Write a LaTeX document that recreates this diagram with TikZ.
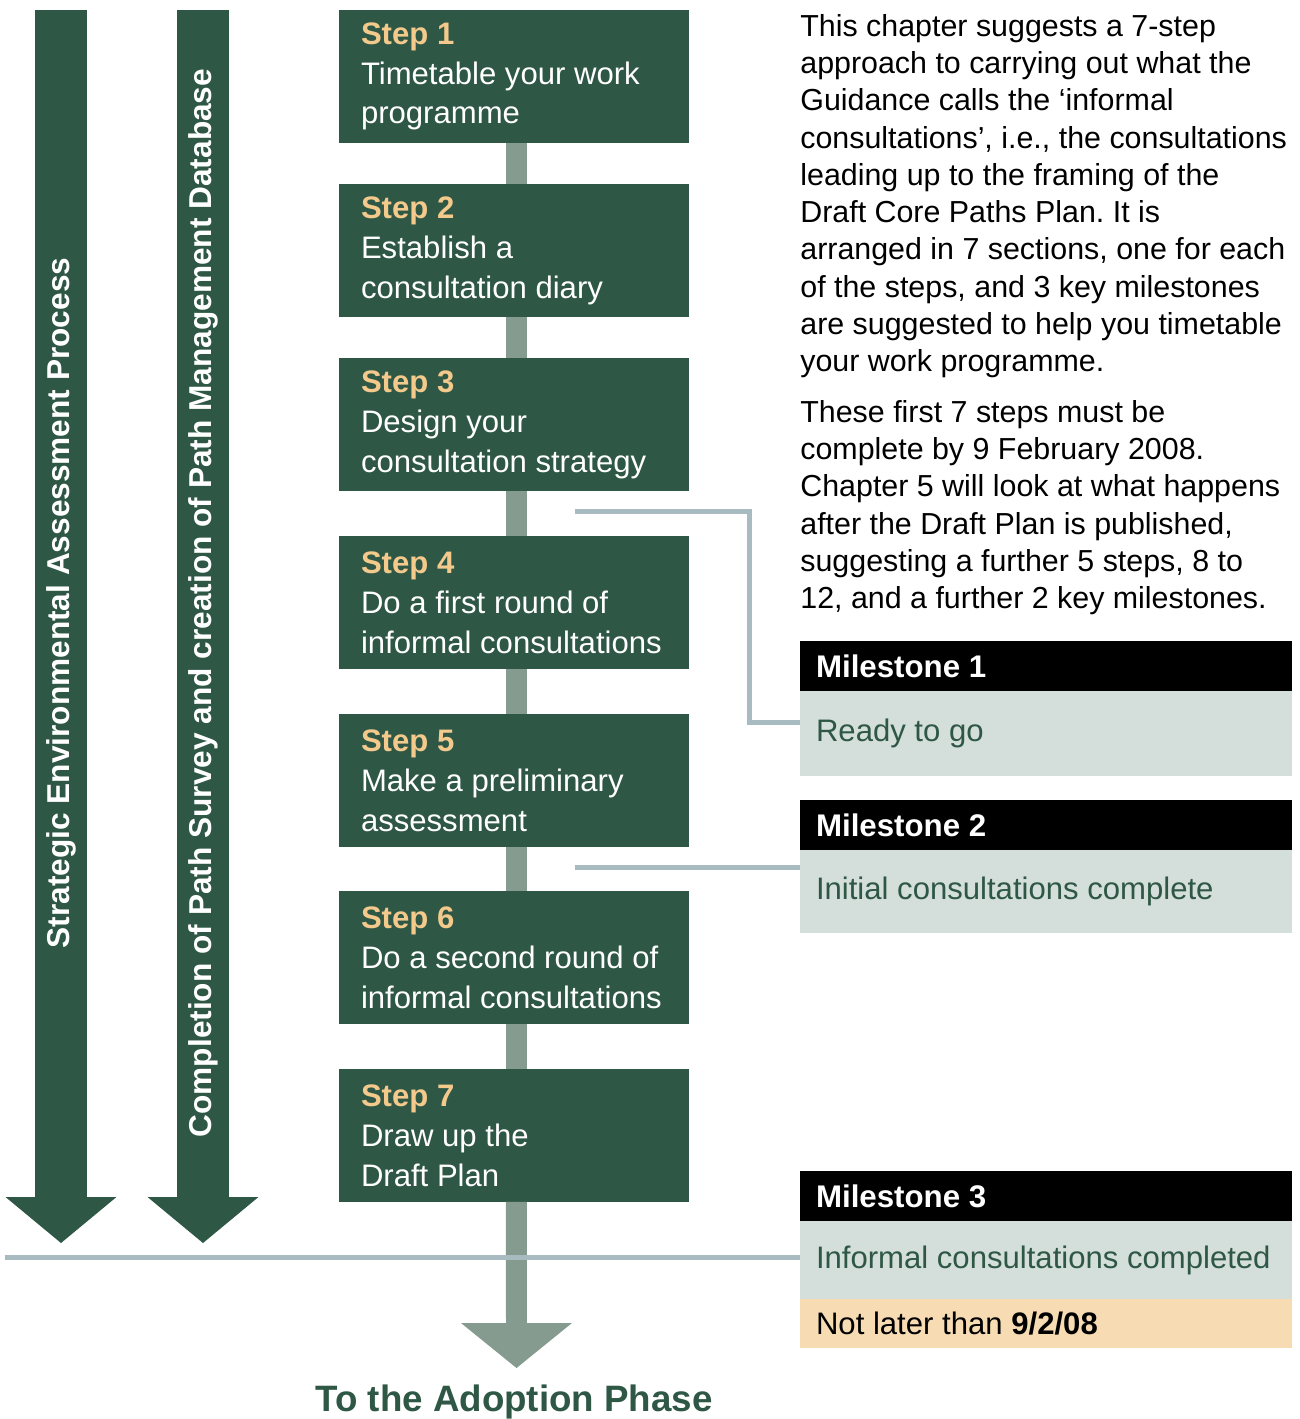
\documentclass[tikz,border=0pt]{standalone}
\usepackage{fontspec}
\setmainfont{Liberation Sans}
\usetikzlibrary{positioning,arrows.meta}
\definecolor{pinegreen}{HTML}{2E5745}
\definecolor{sagegrey}{HTML}{869B8F}
\definecolor{linkgrey}{HTML}{A8BBC1}
\definecolor{mistgrey}{HTML}{D4DEDB}
\definecolor{wheat}{HTML}{F7DBB3}
\definecolor{stepgold}{HTML}{F3C98C}
\tikzset{
  stepbox/.style={fill=pinegreen, text=white, anchor=north west, align=flush left,
    text width=6.12cm, minimum height=2.66cm, inner xsep=0.44cm, inner ysep=0pt,
    outer sep=0pt, font=\fontsize{17.7}{22.7}\selectfont},
  mshead/.style={fill=black, text=white, align=flush left, text width=9.2cm,
    minimum height=1cm, inner xsep=0.32cm, inner ysep=0pt, outer sep=0pt,
    font=\fontsize{17.8}{22}\selectfont\bfseries},
  msbody/.style={fill=mistgrey, text=pinegreen, align=flush left, text width=9.2cm,
    inner xsep=0.32cm, inner ysep=0pt, outer sep=0pt,
    font=\fontsize{17.7}{22}\selectfont},
  blurb/.style={anchor=north west, inner sep=0pt, align=left,
    font=\fontsize{17.3}{21.2}\selectfont},
  trunk/.style={pinegreen, line width=1.03cm,
    -{Triangle[width=2.22cm 0 0, length=0.92cm 0 0, line width=0pt 0 0]}},
  trunklabel/.style={rotate=90, text=white, font=\fontsize{18}{22}\selectfont\bfseries},
  spine/.style={sagegrey, line width=0.42cm},
  link/.style={linkgrey, line width=0.1cm},
}
\frenchspacing
\hyphenpenalty=10000
\begin{document}
\begin{tikzpicture}[x=0.02cm, y=-0.02cm]
  \useasboundingbox (0,0) rectangle (1299,1419);

  \coordinate (seaTop) at (61,10);
  \coordinate (seaTip) at (61,1243);
  \coordinate (surveyTop) at (203,10);
  \coordinate (surveyTip) at (203,1243);
  \draw[trunk] (seaTop) -- node[pos=0.481, trunklabel] {Strategic Environmental Assessment Process} (seaTip);
  \draw[trunk] (surveyTop) -- node[pos=0.481, trunklabel] {Completion of Path Survey and creation of Path Management Database} (surveyTip);

  \foreach \i/\top/\txt in {1/10/{Timetable your work\\programme},
      2/184/{Establish a\\consultation diary},
      3/358/{Design your\\consultation strategy},
      4/536/{Do a first round of\\informal consultations},
      5/714/{Make a preliminary\\assessment},
      6/891/{Do a second round of\\informal consultations},
      7/1069/{Draw up the\\Draft Plan}}
    \node[stepbox] (step\i) at (339,\top) {{\bfseries\color{stepgold}Step \i}\\\txt};

  \foreach \i [count=\j from 2] in {1,...,6}
    \draw[spine] ([xshift=0.05cm]step\i.south) -- ([xshift=0.05cm]step\j.north);
  \coordinate (adoptTip) at (516.5,1368);
  \draw[spine, -{Triangle[width=2.22cm 0 0, length=0.9cm 0 0, line width=0pt 0 0]}] ([xshift=0.05cm]step7.south) -- (adoptTip);
  \node[text=pinegreen, font=\fontsize{20.9}{24}\selectfont\bfseries] (adoption) at (514,1402) {To the Adoption Phase};

  \node[blurb] (intro) at (800,14) {This chapter suggests a 7-step\\
    approach to carrying out what the\\
    Guidance calls the `informal\\
    consultations', i.e., the consultations\\
    leading up to the framing of the\\
    Draft Core Paths Plan. It is\\
    arranged in 7 sections, one for each\\
    of the steps, and 3 key milestones\\
    are suggested to help you timetable\\
    your work programme.};
  \node[blurb] (outlook) at (800,400) {These first 7 steps must be\\
    complete by 9 February 2008.\\
    Chapter 5 will look at what happens\\
    after the Draft Plan is published,\\
    suggesting a further 5 steps, 8 to\\
    12, and a further 2 key milestones.};

  \node[mshead, anchor=north west] (ms1head) at (800,641) {Milestone 1};
  \node[msbody, minimum height=1.7cm, below=0pt of ms1head] (ms1body) {Ready to go};
  \node[mshead, anchor=north west] (ms2head) at (800,800) {Milestone 2};
  \node[msbody, minimum height=1.66cm, below=0pt of ms2head] (ms2body) {Initial consultations complete};
  \node[mshead, anchor=north west] (ms3head) at (800,1171) {Milestone 3};
  \node[msbody, minimum height=1.56cm, below=0pt of ms3head] (ms3body) {Informal consultations completed};
  \node[msbody, fill=wheat, text=black, minimum height=0.98cm, below=0pt of ms3body] (deadline) {Not later than \textbf{9/2/08}};

  \coordinate (tap1) at (575,511);
  \coordinate (bend1) at (749,722);
  \draw[link] (tap1) -| (bend1) -- (bend1 -| ms1body.west);
  \coordinate (tap2) at (575,867);
  \draw[link] (tap2) -- (tap2 -| ms2body.west);
  \coordinate (floor) at (5,1257);
  \draw[link] (floor) -- (floor -| ms3body.west);
\end{tikzpicture}
\end{document}
